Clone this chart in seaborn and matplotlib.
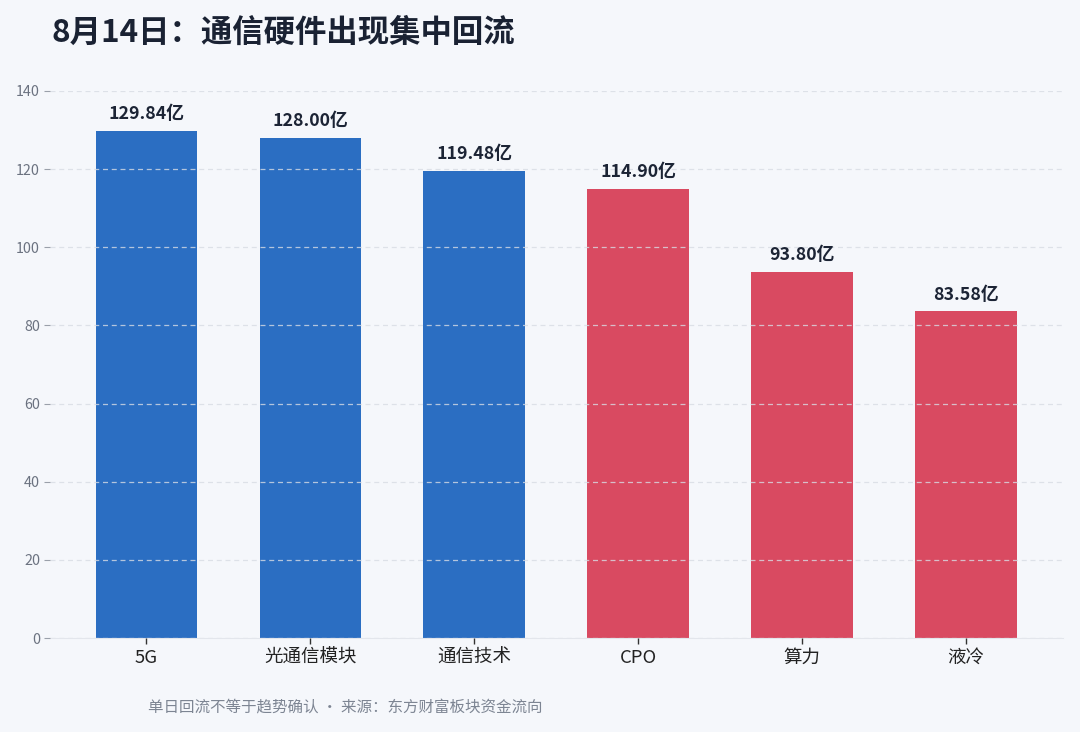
import matplotlib
matplotlib.use("Agg")
import matplotlib.pyplot as plt
import seaborn as sns
import pandas as pd

categories = ["5G", "光通信模块", "通信技术", "CPO", "算力", "液冷"]
values = [129.84, 128.00, 119.48, 114.90, 93.80, 83.58]
groups = ["通信", "通信", "通信", "算力", "算力", "算力"]
labels = ["129.84亿", "128.00亿", "119.48亿", "114.90亿", "93.80亿", "83.58亿"]
yticks = [0, 20, 40, 60, 80, 100, 120, 140]

BG = "#f5f7fb"
palette = {"通信": "#2b6ec2", "算力": "#d94a61"}

sns.set_theme(style="white")
plt.rcParams["font.family"] = ["Noto Sans CJK SC", "DejaVu Sans"]

df = pd.DataFrame({"cat": categories, "val": values, "grp": groups})

fig = plt.figure(figsize=(10.8, 7.32), dpi=100, facecolor=BG)
ax = fig.add_axes([0.046, 0.1284, 0.938, 0.7473])
ax.set_facecolor(BG)

sns.barplot(data=df, x="cat", y="val", hue="grp", palette=palette,
            dodge=False, width=0.62, legend=False, ax=ax, saturation=1,
            linewidth=0)

for i, (v, lab) in enumerate(zip(values, labels)):
    ax.text(i, v + 2.0, lab, ha="center", va="bottom", fontsize=12.8,
            fontweight="bold", color="#1c2435")

ax.set_ylim(0, 140)
ax.set_xlim(-0.59, 5.59)
ax.set_yticks(yticks)
ax.set_xlabel("")
ax.set_ylabel("")
ax.yaxis.grid(True, linestyle=(0, (4, 3)), color="#d8dce4", linewidth=0.9, alpha=0.8)
ax.set_axisbelow(False)
for s in ["top", "right", "left"]:
    ax.spines[s].set_visible(False)
ax.spines["bottom"].set_color("#e3e6ec")
ax.spines["bottom"].set_linewidth(0.8)
ax.tick_params(axis="x", length=4, width=1, color="#333333", labelsize=13.3,
               labelcolor="#222222", pad=4, bottom=True)
ax.tick_params(axis="y", length=4, width=0.8, color="#9aa0aa", labelsize=10.3,
               labelcolor="#6b7280", pad=3, left=True)

fig.text(0.048, 0.955, "8月14日：通信硬件出现集中回流", fontsize=22.6,
         fontweight="bold", color="#1a2233", ha="left", va="center")
fig.text(0.137, 0.034, "单日回流不等于趋势确认 · 来源：东方财富板块资金流向",
         fontsize=11.2, color="#7d8593", ha="left", va="center")

fig.savefig("out.png", dpi=100, facecolor=BG)
